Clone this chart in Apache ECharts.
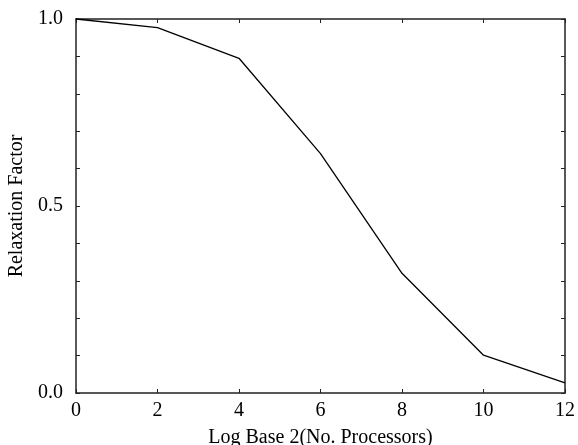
<!DOCTYPE html>
<html>
<head>
<meta charset="utf-8">
<script src="https://cdn.jsdelivr.net/npm/echarts@6/dist/echarts.min.js"></script>
<style>html,body{margin:0;padding:0;background:#fff}#c{width:578px;height:445px}</style>
</head>
<body>
<div id="c"></div>
<script>
const xValues = [0, 2, 4, 6, 8, 10, 12];
const relaxation = [1.0, 0.977, 0.895, 0.64, 0.32, 0.101, 0.027];
const xTicks = [0, 2, 4, 6, 8, 10, 12];
const yTickLabels = ['0.0', '0.5', '1.0'];

const font = 'Liberation Serif';
const chart = echarts.init(document.getElementById('c'), null, {renderer: 'canvas'});
const axisLine = {show: true, onZero: false, lineStyle: {color: '#222', width: 1.5}};
const tick = {show: true, inside: true, length: 4, lineStyle: {color: '#222', width: 1}};
const yLabel = v => {
  const k = Math.round(v * 10);
  return k % 5 === 0 ? yTickLabels[k / 5] : '';
};
chart.setOption({
  animation: false,
  backgroundColor: '#fff',
  grid: {left: 76, right: 13, top: 19, bottom: 52, containLabel: false, outerBoundsMode: 'none'},
  xAxis: [{
    type: 'value', min: xTicks[0], max: xTicks[xTicks.length - 1], interval: 2,
    position: 'bottom',
    name: 'Log Base 2(No. Processors)', nameLocation: 'middle', nameGap: 35,
    nameTextStyle: {fontFamily: font, fontSize: 20, color: '#000'},
    axisLine: axisLine,
    axisTick: tick,
    axisLabel: {fontFamily: font, fontSize: 20, color: '#000', margin: 8},
    splitLine: {show: false}
  }, {
    type: 'value', min: xTicks[0], max: xTicks[xTicks.length - 1], interval: 2,
    position: 'top',
    axisLine: axisLine,
    axisTick: tick,
    axisLabel: {show: false},
    splitLine: {show: false}
  }],
  yAxis: [{
    type: 'value', min: 0, max: 1, interval: 0.1,
    position: 'left',
    name: 'Relaxation Factor', nameLocation: 'middle', nameGap: 47,
    nameTextStyle: {fontFamily: font, fontSize: 20, color: '#000'},
    axisLine: axisLine,
    axisTick: tick,
    axisLabel: {fontFamily: font, fontSize: 20, color: '#000', margin: 13, formatter: yLabel},
    splitLine: {show: false}
  }, {
    type: 'value', min: 0, max: 1, interval: 0.1,
    position: 'right',
    axisLine: axisLine,
    axisTick: tick,
    axisLabel: {show: false},
    splitLine: {show: false}
  }],
  series: [{
    type: 'line',
    data: xValues.map((x, i) => [x, relaxation[i]]),
    symbol: 'none',
    lineStyle: {color: '#000', width: 1.3},
    clip: false
  }]
});
</script>
</body>
</html>
